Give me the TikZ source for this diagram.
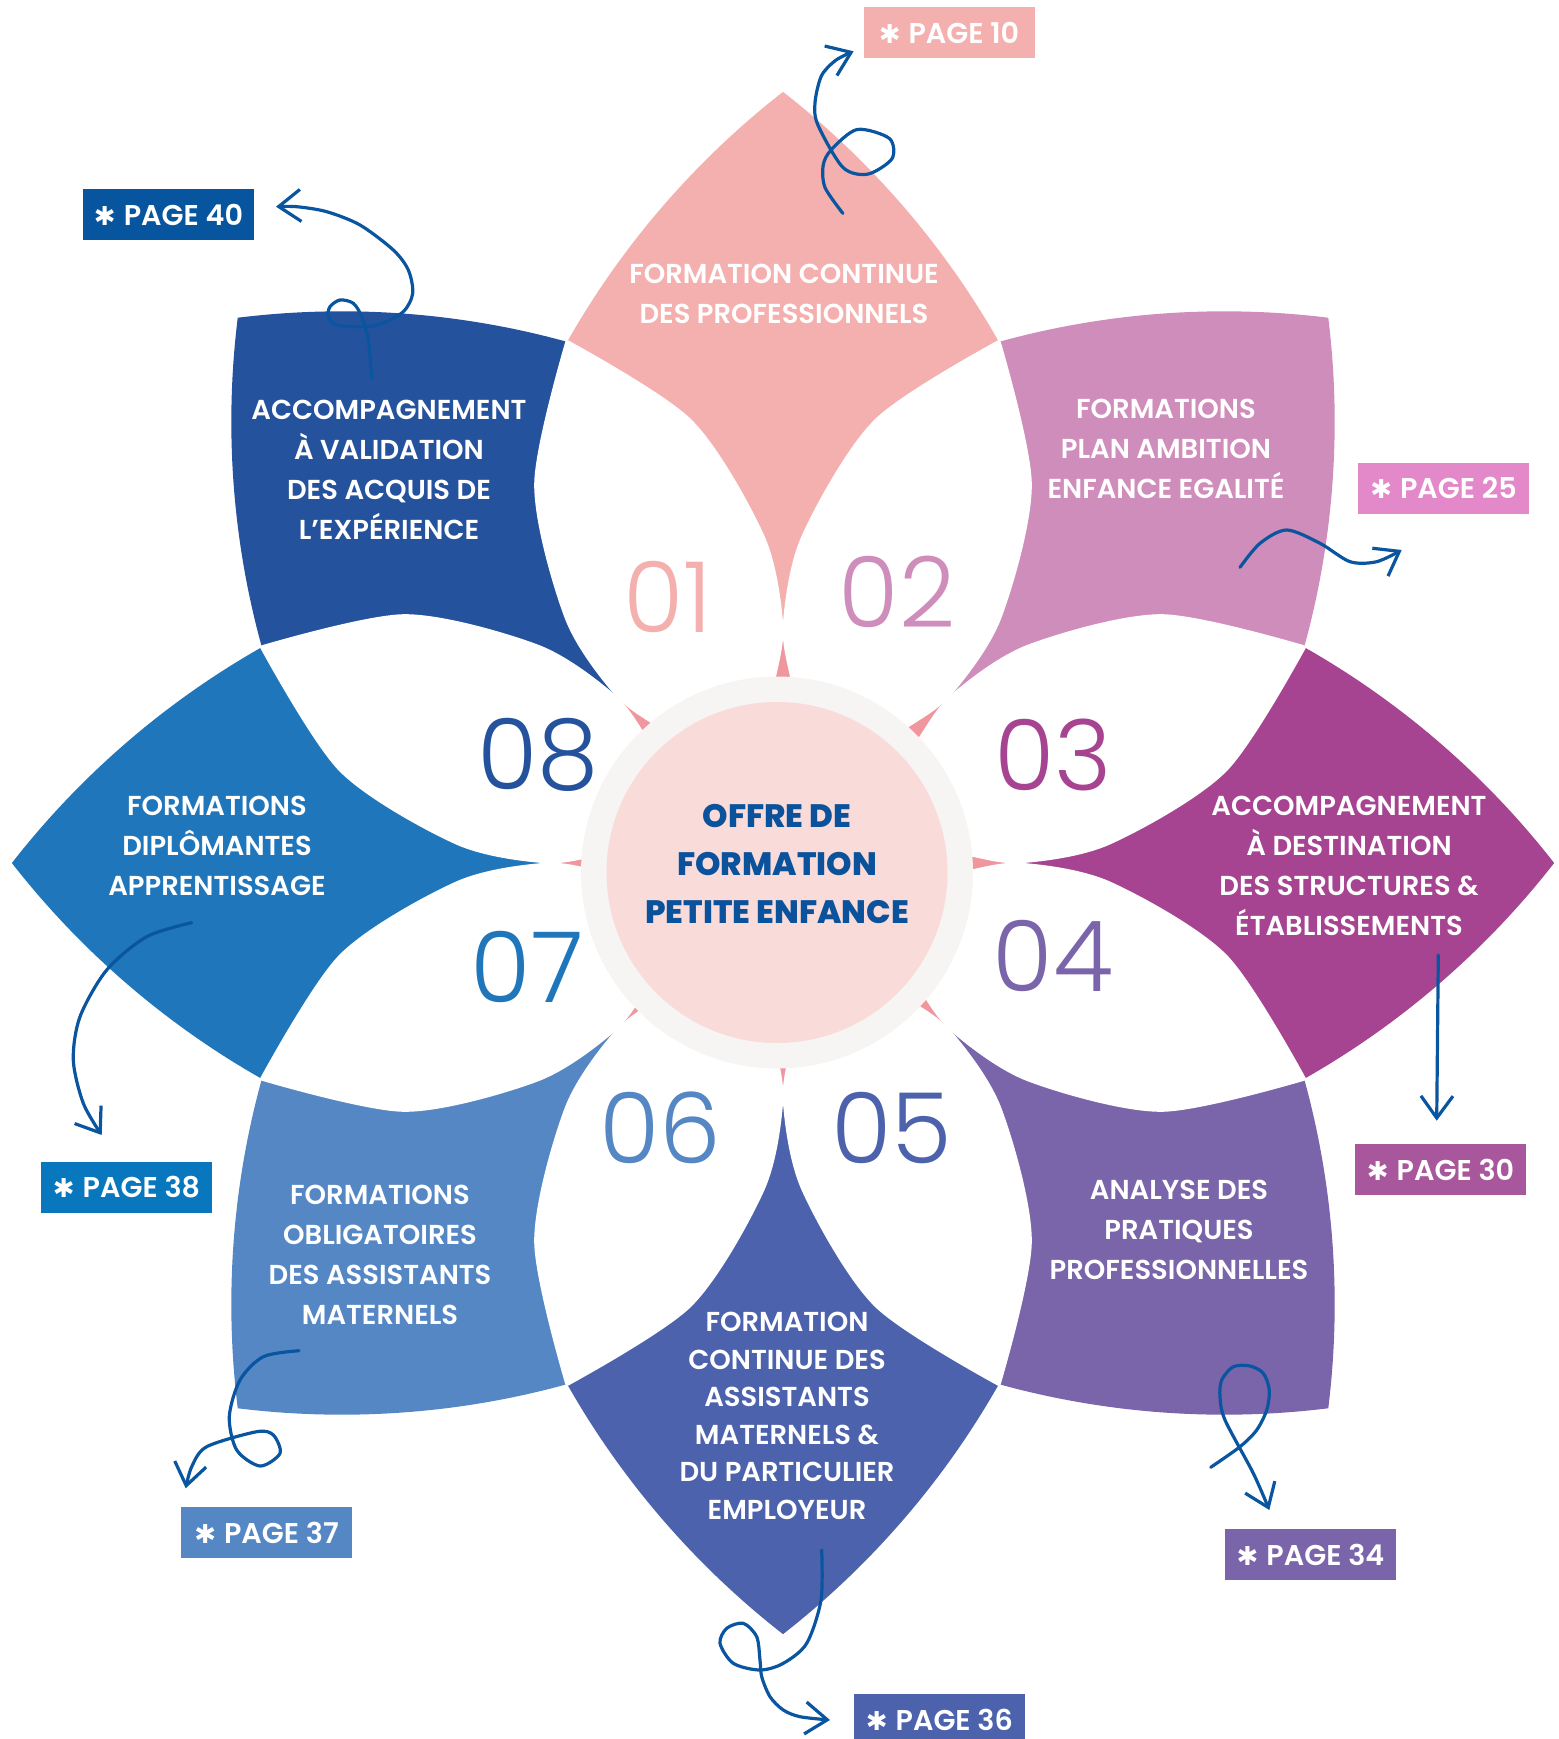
\documentclass[tikz,border=0pt]{standalone}
\usepackage{fontspec}
\setmainfont{Poppins}
\newfontfamily\petalfont{Poppins SemiBold}
\newfontfamily\titlefont{Poppins ExtraBold}
\newfontfamily\numfont{Poppins Light}
\newfontfamily\symfont{DejaVu Sans}
\usetikzlibrary{arrows.meta}
\definecolor{cPro}{HTML}{F4B0AE}
\definecolor{cPlan}{HTML}{CF8DBB}
\definecolor{cStruct}{HTML}{A64492}
\definecolor{cAnalyse}{HTML}{7A64AA}
\definecolor{cAssmat}{HTML}{4C62AD}
\definecolor{cOblig}{HTML}{5587C5}
\definecolor{cDiplo}{HTML}{2076BB}
\definecolor{cVae}{HTML}{25529D}
\definecolor{bVae}{HTML}{07559E}
\definecolor{bPlan}{HTML}{E389C9}
\definecolor{bStruct}{HTML}{A8579C}
\definecolor{bDiplo}{HTML}{0877BD}
\definecolor{cSliver}{HTML}{F0969E}
\definecolor{cRing}{HTML}{F6F5F3}
\definecolor{cCore}{HTML}{F9DBDA}
\definecolor{cTitle}{HTML}{0A529B}
\definecolor{cCurl}{HTML}{0A55A0}
\newcommand\pagestar{{\symfont\fontsize{13}{13}\selectfont ✱}\hspace{4pt}}
\begin{document}
\begin{tikzpicture}[x=0.5pt,y=-0.5pt,
lbl/.style={text=white,font=\petalfont\fontsize{13.7}{20}\selectfont,align=center},
num/.style={text=#1,font=\numfont\fontsize{49}{49}\selectfont,inner sep=0pt},
title/.style={text=cTitle,font=\titlefont\fontsize{16.2}{24}\selectfont,align=center},
page/.style={fill=#1,text=white,font=\petalfont\fontsize{14.3}{16}\selectfont,
	minimum width=85.5pt,minimum height=25.5pt,inner sep=0pt},
curl/.style={draw=cCurl,line width=1.6pt,line cap=round,line join=round,
	-{Straight Barb[length=11pt,width=16pt]}}]
	\useasboundingbox (0,0) rectangle (1558,1739);
	\foreach \a/\c in {90/cPro,45/cPlan,0/cStruct,-45/cAnalyse,-90/cAssmat,-135/cOblig,180/cDiplo,135/cVae}{
		\begin{scope}[shift={(783,863)},rotate=\a]
			\clip (0,0) -- (924,383) -- (924,-383) -- cycle;
			\clip (106,518) circle[radius=843];
			\fill[\c] (106,-518) circle[radius=843];
		\end{scope}
	}
	\fill[cSliver] (783,863) circle[radius=240];
	\foreach \a in {22.5,67.5,...,337.5}
		\fill[white,shift={(783,863)},rotate=\a] plot[smooth] coordinates {(567,0) (445,85) (310,108) (222,92) (175,65) (130,30) (105,0) (130,-30) (175,-65) (222,-92) (310,-108) (445,-85) (567,0)} -- cycle;
	\fill[cRing] (777,872.5) circle[radius=196];
	\fill[cCore] (777,872.5) circle[radius=170.5];
	\node[title] (core) at (777,864) {OFFRE DE\\FORMATION\\PETITE ENFANCE};
	\foreach \n/\x/\y/\c in {01/668/597/cPro,02/897/592/cPlan,03/1053/755/cStruct,04/1053/956/cAnalyse,05/892/1128/cAssmat,06/660/1128/cOblig,07/527/967/cDiplo,08/538/755/cVae}
		\node[num=\c] (n\n) at (\x,\y) {\n};
	\node[lbl] (l1) at (784,294) {FORMATION CONTINUE\\DES PROFESSIONNELS};
	\node[lbl] (l2) at (1166,449) {FORMATIONS\\PLAN AMBITION\\ENFANCE EGALITÉ};
	\node[lbl] (l3) at (1349,866) {ACCOMPAGNEMENT\\À DESTINATION\\DES STRUCTURES \&\\ÉTABLISSEMENTS};
	\node[lbl] (l4) at (1179,1230) {ANALYSE DES\\PRATIQUES\\PROFESSIONNELLES};
	\node[lbl,font=\petalfont\fontsize{13.7}{18.75}\selectfont] (l5) at (787,1416) {FORMATION\\CONTINUE DES\\ASSISTANTS\\MATERNELS \&\\DU PARTICULIER\\EMPLOYEUR};
	\node[lbl] (l6) at (380,1255) {FORMATIONS\\OBLIGATOIRES\\DES ASSISTANTS\\MATERNELS};
	\node[lbl] (l7) at (217,846) {FORMATIONS\\DIPLÔMANTES\\APPRENTISSAGE};
	\node[lbl] (l8) at (389,470) {ACCOMPAGNEMENT\\À VALIDATION\\DES ACQUIS DE\\L’EXPÉRIENCE};
	\node[page=cPro] (p10) at (949,32.5) {\pagestar PAGE 10};
	\node[page=bVae] (p40) at (168.5,214.6) {\pagestar PAGE 40};
	\node[page=bPlan] (p25) at (1443.5,488.4) {\pagestar PAGE 25};
	\node[page=bStruct] (p30) at (1440.5,1169.5) {\pagestar PAGE 30};
	\node[page=cAnalyse] (p34) at (1310.5,1554.5) {\pagestar PAGE 34};
	\node[page=cAssmat] (p36) at (939.4,1719.8) {\pagestar PAGE 36};
	\node[page=cOblig] (p37) at (266.5,1532.5) {\pagestar PAGE 37};
	\node[page=bDiplo] (p38) at (126.5,1187.4) {\pagestar PAGE 38};
	\coordinate (s10) at (842.9,213.4);
	\coordinate (e10) at (853.6,51.3);
	\coordinate (s40) at (371.7,378.3);
	\coordinate (e40) at (276,206.7);
	\coordinate (s25) at (1240,567.3);
	\coordinate (e25) at (1401.7,550);
	\coordinate (s30) at (1438.3,955);
	\coordinate (e30) at (1436.7,1120.7);
	\coordinate (s34) at (1210.7,1467.3);
	\coordinate (e34) at (1269.3,1510);
	\coordinate (s36) at (821.7,1550);
	\coordinate (e36) at (830,1720);
	\coordinate (s37) at (299,1350.7);
	\coordinate (e37) at (185.7,1488.3);
	\coordinate (s38) at (191.7,922.7);
	\coordinate (e38) at (101.7,1135);
	\draw[curl] plot[smooth] coordinates {(s10) (825,187.5) (823.2,165.2) (831.4,149.6) (857.1,129.5) (889.3,138.4) (892.1,158.5) (867.9,174.1) (842.9,167.4) (817.9,125) (815,102.7) (821.4,75.9) (835.7,60.3) (e10)};
	\draw[curl] plot[smooth] coordinates {(s40) (368.3,340) (361.7,316.7) (353.3,303.3) (340,300) (330,306.7) (328.3,316.7) (336.7,325) (360,326.7) (380,324.3) (403.3,311.7) (412.7,293.3) (408.3,270) (393.3,250) (360,225) (326.7,211.7) (296.7,206.7) (e40)};
	\draw[curl] plot[smooth] coordinates {(s25) (1260,543.3) (1286.7,530) (1320,543.3) (1350,561.7) (1376.7,561.7) (e25)};
	\draw[curl] (s30) -- (e30);
	\draw[curl] plot[smooth] coordinates {(s34) (1240,1446.7) (1256.7,1430) (1266.7,1410) (1269.3,1390) (1263.3,1373.3) (1250,1366) (1233.3,1366.7) (1221.7,1380) (1220,1396.7) (1225,1420) (1253.3,1473.3) (e34)};
	\draw[curl] plot[smooth] coordinates {(s36) (821,1600) (806.7,1643.3) (783.3,1663.3) (760,1670) (733.3,1663.3) (720,1643.3) (726.7,1628.3) (743.3,1623.3) (756.7,1636.7) (760,1660) (761.7,1676.7) (770,1696.7) (783.3,1710) (800,1716.7) (e36)};
	\draw[curl] plot[smooth] coordinates {(s37) (263.3,1356.7) (240,1380) (229.3,1416.7) (236.7,1450) (260,1466) (280,1453.3) (273.3,1435) (256.7,1431.7) (206.7,1446.7) (191.7,1466.7) (e37)};
	\draw[curl] plot[smooth] coordinates {(s38) (146.7,936.7) (106.7,970) (80,1016.7) (73.3,1060) (83.3,1103.3) (e38)};
\end{tikzpicture}
\end{document}
